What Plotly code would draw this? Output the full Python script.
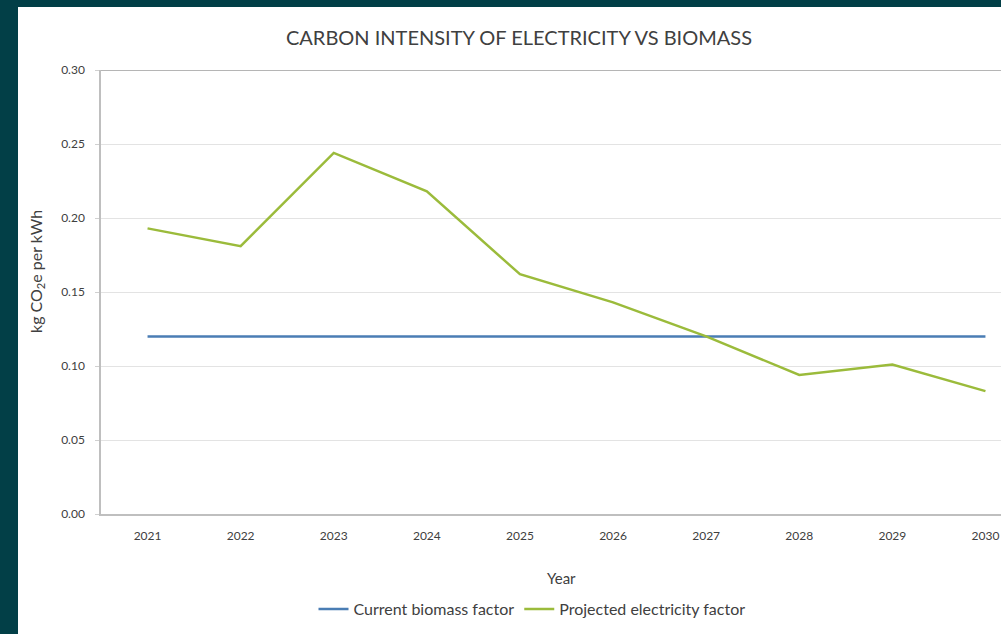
import plotly.graph_objects as go

years = ["2021", "2022", "2023", "2024", "2025", "2026", "2027", "2028", "2029", "2030"]
biomass = [0.12, 0.12, 0.12, 0.12, 0.12, 0.12, 0.12, 0.12, 0.12, 0.12]
electricity = [0.193, 0.181, 0.244, 0.218, 0.162, 0.143, 0.120, 0.094, 0.101, 0.083]
yticks = [0.0, 0.05, 0.10, 0.15, 0.20, 0.25, 0.30]

W, H = 1001, 634
L, R, T, B = 101, 0, 70, 120
pw, ph = W - L - R, H - T - B

def px(x):
    return (x - L) / pw

def py(y):
    return (H - B - y) / ph

fig = go.Figure()
fig.add_trace(go.Scatter(x=years, y=biomass, mode="lines", name="Current biomass factor",
                         line=dict(color="#4a7db4", width=2.5)))
fig.add_trace(go.Scatter(x=years, y=electricity, mode="lines", name="Projected electricity factor",
                         line=dict(color="#9bbb3b", width=2.5)))

font = "Lato, 'Open Sans', sans-serif"
fig.update_layout(
    width=W, height=H,
    margin=dict(l=L, r=R, t=T, b=B),
    paper_bgcolor="#023f47",
    plot_bgcolor="white",
    title=dict(text="CARBON INTENSITY OF ELECTRICITY VS BIOMASS", x=px(519), xref="paper",
               xanchor="center", y=1 - 38 / H, yanchor="middle",
               font=dict(family=font, size=20, color="#404040")),
    showlegend=True,
    legend=dict(orientation="h", x=px(532), xanchor="center", y=py(609), yanchor="middle",
                font=dict(family=font, size=16, color="#404040"), bgcolor="rgba(0,0,0,0)",
                itemwidth=30, tracegroupgap=0),
    xaxis=dict(range=[-0.5, (W - L) / 93.1 - 0.5], showgrid=False, showline=True,
               linecolor="#bfbfbf", linewidth=1.5, ticks="", tickfont=dict(family=font, size=12, color="#404040"),
               zeroline=False, ticklabelstandoff=10),
    yaxis=dict(range=[0, 0.30], tickvals=yticks, tickformat=".2f", showgrid=True, gridcolor="#e3e3e3",
               showline=True, linecolor="#bfbfbf", linewidth=1.5, ticks="outside", ticklen=4,
               tickcolor="#d0d0d0", tickfont=dict(family=font, size=12, color="#404040"),
               zeroline=False, ticklabelstandoff=8),
    shapes=[
        dict(type="rect", xref="paper", yref="paper", x0=px(18), x1=px(W + 5), y0=py(H + 5), y1=py(7),
             fillcolor="white", line=dict(width=0), layer="below"),
        dict(type="line", xref="paper", yref="y", x0=0, x1=1, y0=0.30, y1=0.30,
             line=dict(color="#b5b5b5", width=2)),
    ],
    annotations=[
        dict(text="Year", xref="paper", yref="paper", x=px(561), y=py(578), yanchor="middle",
             showarrow=False, font=dict(family=font, size=15, color="#404040")),
        dict(text="kg CO<sub>2</sub>e per kWh", xref="paper", yref="paper", x=px(36), y=py(272),
             xanchor="center", yanchor="middle",
             textangle=-90, showarrow=False, font=dict(family=font, size=16, color="#404040")),
    ],
)

fig.write_html("out.html")
